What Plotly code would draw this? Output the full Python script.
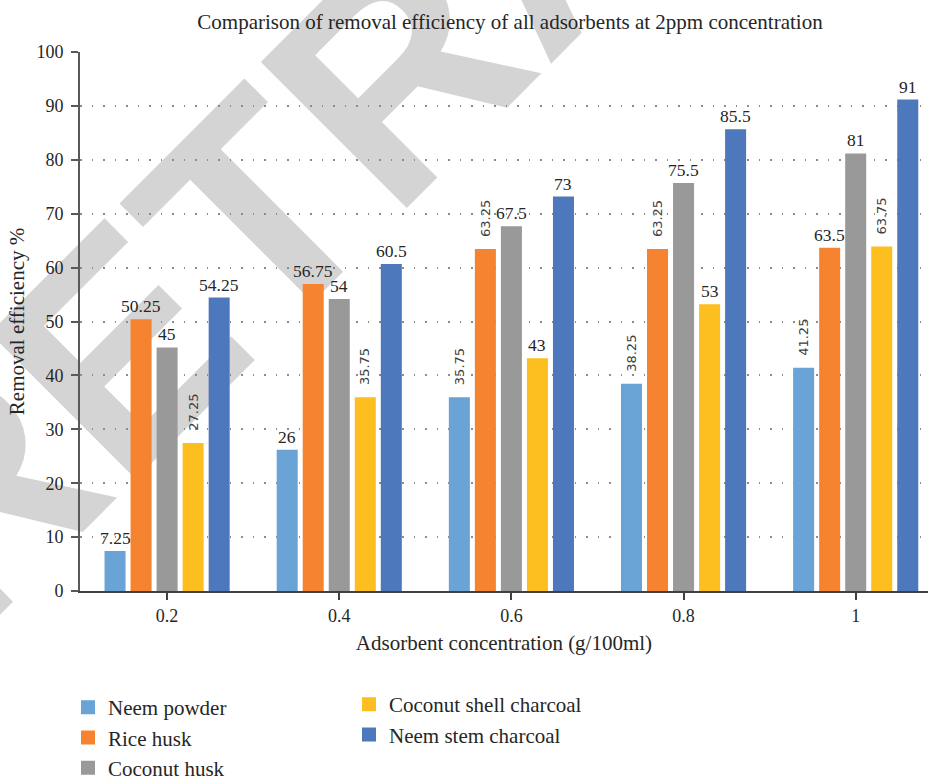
import plotly.graph_objects as go

categories = ["0.2", "0.4", "0.6", "0.8", "1"]
series_names = ["Neem powder", "Rice husk", "Coconut husk", "Coconut shell charcoal", "Neem stem charcoal"]
neem_powder = [7.25, 26, 35.75, 38.25, 41.25]
rice_husk = [50.25, 56.75, 63.25, 63.25, 63.5]
coconut_husk = [45, 54, 67.5, 75.5, 81]
coconut_shell_charcoal = [27.25, 35.75, 43, 53, 63.75]
neem_stem_charcoal = [54.25, 60.5, 73, 85.5, 91]
y_ticks = [0, 10, 20, 30, 40, 50, 60, 70, 80, 90, 100]
watermark_text = "RETRACTED"

# style: which value labels are drawn vertically (as in the reference)
label_rotated = [
    [False, False, True, True, True],
    [False, False, True, True, False],
    [False, False, False, False, False],
    [True, True, False, False, True],
    [False, False, False, False, False],
]
colors = ["#6aa3d5", "#f5832f", "#999999", "#fdbe1f", "#4e78bc"]
values = [neem_powder, rice_husk, coconut_husk, coconut_shell_charcoal, neem_stem_charcoal]

SERIF = "Liberation Serif"
TXT = "#262626"
BARGAP = 0.244
BARGROUPGAP = 0.269
BAR_OUTLINE = 2

# plot area in pixels (for converting placements to paper fractions)
PL, PR, PT, PB = 80, 928, 52, 591


def px_x(p):
    return (p - PL) / (PR - PL)


def px_y(p):
    return (PB - p) / (PB - PT)


fig = go.Figure()
for j, (name, vals, col) in enumerate(zip(series_names, values, colors)):
    fig.add_trace(go.Bar(
        x=categories, y=vals, name=name,
        marker=dict(color=col, line=dict(color=col, width=BAR_OUTLINE)),
        legend="legend" if j < 3 else "legend2", legendgroup=name,
    ))

n = len(series_names)
slot = (1 - BARGAP) / n
annotations = []
for j, vals in enumerate(values):
    off = (j - (n - 1) / 2) * slot
    for i, v in enumerate(vals):
        rot = label_rotated[j][i]
        annotations.append(dict(
            x=i + off, y=v, xref="x", yref="y", text=f"{v:g}", showarrow=False,
            xanchor="center", yanchor="bottom",
            textangle=-90 if rot else 0,
            yshift=11 if rot else 2,
            font=dict(family="DejaVu Sans" if rot else SERIF, size=13 if rot else 17.5,
                      color="#404040" if rot else TXT),
        ))

# diagonal "RETRACTED" stamp, behind the bars
wm_cx, wm_cy = 529, -101
fig.add_shape(
    type="rect", xref="paper", yref="paper", layer="below",
    x0=px_x(wm_cx - 1), x1=px_x(wm_cx + 1), y0=px_y(wm_cy + 1), y1=px_y(wm_cy - 1),
    line=dict(width=0), fillcolor="rgba(0,0,0,0)",
    label=dict(text=watermark_text, textangle=-45, textposition="middle center",
               xanchor="center", yanchor="middle", padding=0,
               font=dict(family="Liberation Sans", size=300, weight="bold", color="#d4d4d4")),
)

fig.update_layout(
    width=928, height=781,
    margin=dict(l=PL, r=928 - PR, t=PT, b=781 - PB, pad=0, autoexpand=False),
    paper_bgcolor="white", plot_bgcolor="rgba(0,0,0,0)",
    barmode="group", bargap=BARGAP, bargroupgap=BARGROUPGAP,
    title=dict(text="Comparison of removal efficiency of all adsorbents at 2ppm concentration",
               x=510 / 928, xanchor="center", y=1 - 22 / 781, yanchor="middle",
               font=dict(family=SERIF, size=21, color=TXT)),
    font=dict(family=SERIF, color=TXT),
    xaxis=dict(
        type="category", range=[-0.506, 4.42], automargin=False,
        showline=True, linecolor="#404040", linewidth=2,
        ticks="outside", ticklen=7, tickwidth=2, tickcolor="#404040",
        tickfont=dict(family=SERIF, size=18, color=TXT),
        showgrid=False, zeroline=False,
        title=dict(text="Adsorbent concentration (g/100ml)", standoff=11,
                   font=dict(family=SERIF, size=21, color=TXT)),
    ),
    yaxis=dict(
        range=[0, 100], tickvals=y_ticks, automargin=False,
        showline=True, linecolor="#595959", linewidth=2,
        ticks="outside", ticklen=7, tickwidth=2, tickcolor="#595959",
        ticklabelstandoff=4,
        tickfont=dict(family=SERIF, size=18, color=TXT),
        showgrid=True, gridcolor="#8c8c8c", gridwidth=1.5, griddash="1.5px,10px",
        zeroline=False,
        title=dict(text="Removal efficiency %", standoff=6,
                   font=dict(family=SERIF, size=21, color=TXT)),
    ),
    legend=dict(x=px_x(68), y=px_y(687), xanchor="left", yanchor="top",
                orientation="v", tracegroupgap=0,
                font=dict(family=SERIF, size=21, color=TXT), bgcolor="rgba(0,0,0,0)"),
    legend2=dict(x=px_x(349), y=px_y(684), xanchor="left", yanchor="top",
                 orientation="v", tracegroupgap=0,
                 font=dict(family=SERIF, size=21, color=TXT), bgcolor="rgba(0,0,0,0)"),
    annotations=annotations,
)

fig.write_html("out.html")
